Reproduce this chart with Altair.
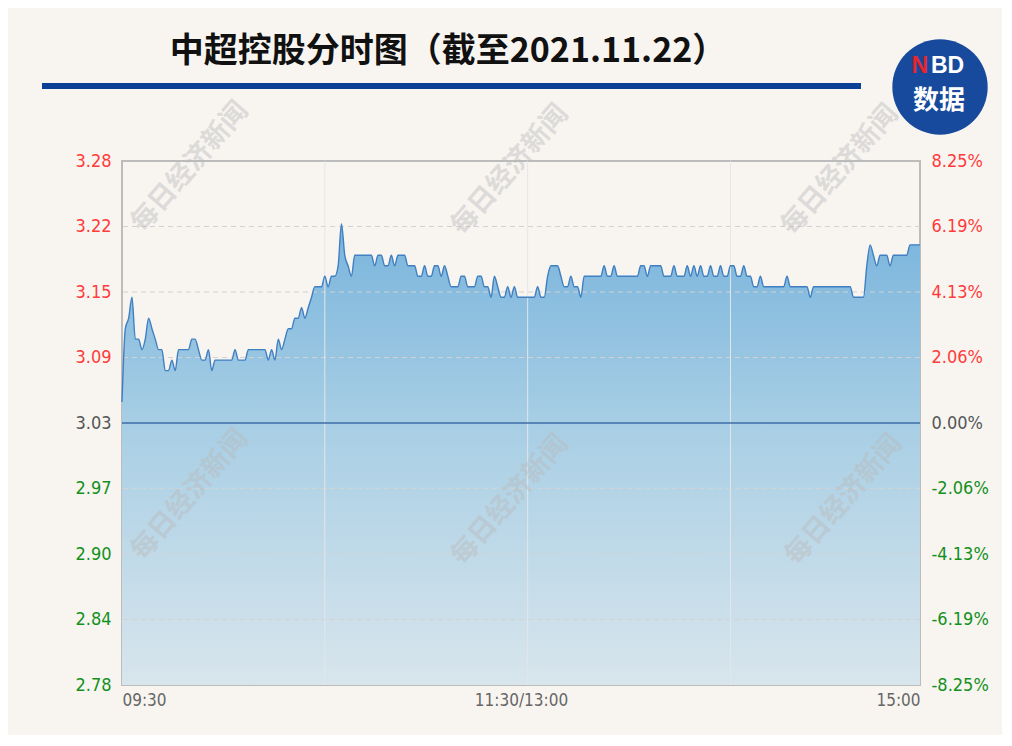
import json
import altair as alt
import pandas as pd

# ---------------- data ----------------
title_text = "中超控股分时图（截至2021.11.22）"
prev_close = 3.03

# one price per trading minute, 09:30 ... 11:30 / 13:00 ... 15:00 (241 points)
prices = [
    3.05, 3.12, 3.13, 3.15, 3.11, 3.11, 3.10, 3.11, 3.13, 3.12,
    3.11, 3.10, 3.10, 3.08, 3.08, 3.09, 3.08, 3.10, 3.10, 3.10,
    3.10, 3.11, 3.11, 3.10, 3.09, 3.09, 3.10, 3.08, 3.09, 3.09,
    3.09, 3.09, 3.09, 3.09, 3.10, 3.09, 3.09, 3.09, 3.10, 3.10,
    3.10, 3.10, 3.10, 3.10, 3.09, 3.10, 3.09, 3.11, 3.10, 3.11,
    3.12, 3.12, 3.13, 3.13, 3.14, 3.13, 3.14, 3.15, 3.16, 3.16,
    3.16, 3.17, 3.16, 3.17, 3.17, 3.18, 3.22, 3.19, 3.18, 3.17,
    3.19, 3.19, 3.19, 3.19, 3.19, 3.19, 3.18, 3.19, 3.19, 3.18,
    3.18, 3.19, 3.18, 3.19, 3.19, 3.19, 3.18, 3.18, 3.18, 3.17,
    3.17, 3.18, 3.17, 3.17, 3.18, 3.18, 3.17, 3.18, 3.17, 3.16,
    3.16, 3.16, 3.17, 3.17, 3.16, 3.16, 3.16, 3.17, 3.17, 3.16,
    3.16, 3.15, 3.17, 3.16, 3.15, 3.15, 3.16, 3.15, 3.16, 3.15,
    3.15, 3.15, 3.15, 3.15, 3.15, 3.16, 3.15, 3.15, 3.17, 3.18,
    3.18, 3.18, 3.17, 3.16, 3.16, 3.17, 3.16, 3.16, 3.15, 3.17,
    3.17, 3.17, 3.17, 3.17, 3.17, 3.18, 3.17, 3.17, 3.18, 3.17,
    3.17, 3.17, 3.17, 3.17, 3.17, 3.17, 3.18, 3.18, 3.17, 3.18,
    3.18, 3.18, 3.18, 3.17, 3.17, 3.17, 3.18, 3.17, 3.17, 3.17,
    3.18, 3.17, 3.18, 3.17, 3.18, 3.17, 3.17, 3.18, 3.17, 3.17,
    3.18, 3.17, 3.17, 3.18, 3.18, 3.17, 3.17, 3.18, 3.17, 3.17,
    3.16, 3.16, 3.17, 3.16, 3.16, 3.16, 3.16, 3.16, 3.16, 3.16,
    3.17, 3.16, 3.16, 3.16, 3.16, 3.16, 3.16, 3.15, 3.16, 3.16,
    3.16, 3.16, 3.16, 3.16, 3.16, 3.16, 3.16, 3.16, 3.16, 3.16,
    3.15, 3.15, 3.15, 3.15, 3.18, 3.20, 3.19, 3.18, 3.19, 3.19,
    3.19, 3.18, 3.19, 3.19, 3.19, 3.19, 3.19, 3.20, 3.20, 3.20,
    3.20,
]
minutes = list(range(len(prices)))

y_tick_values = [2.78, 2.8425, 2.905, 2.9675, 3.03, 3.0925, 3.155, 3.2175, 3.28]
y_tick_labels = ["2.78", "2.84", "2.90", "2.97", "3.03", "3.09", "3.15", "3.22", "3.28"]
pct_tick_labels = ["-8.25%", "-6.19%", "-4.13%", "-2.06%", "0.00%",
                   "2.06%", "4.13%", "6.19%", "8.25%"]
x_tick_values = [0, 120, 240]
x_tick_labels = ["09:30", "11:30/13:00", "15:00"]
v_grid_minutes = [61, 122, 183]
watermark = "每日经济新闻"

# ---------------- styling ----------------
BG = "#f8f5f1"
RED = "#ff3b3b"
GREEN = "#13901b"
GREY = "#555555"
LABEL_FONT = "Liberation Sans Narrow, DejaVu Sans Condensed, sans-serif"
CJK = "Noto Sans CJK SC"

df = pd.DataFrame({"t": minutes, "price": prices})
one = pd.DataFrame({"a": [0]})
h_grid = pd.DataFrame({"p": [v for v in y_tick_values[1:-1] if abs(v - prev_close) > 0.001]})

xs = alt.Scale(domain=[0, 240], nice=False, zero=False)
ys = alt.Scale(domain=[y_tick_values[0], y_tick_values[-1]], nice=False, zero=False)

label_color = {
    "condition": [
        {"test": f"datum.value > {prev_close + 0.001}", "value": RED},
        {"test": f"datum.value < {prev_close - 0.001}", "value": GREEN},
    ],
    "value": GREY,
}

x_axis = alt.Axis(
    values=x_tick_values,
    labelExpr=(f"datum.value == {x_tick_values[0]} ? '{x_tick_labels[0]}' : "
               f"datum.value == {x_tick_values[1]} ? '{x_tick_labels[1]}' : '{x_tick_labels[2]}'"),
    labelFlush=True, labelColor="#666666", labelFont=LABEL_FONT, labelFontSize=17,
    labelPadding=7, ticks=False, domain=False, grid=False, title=None,
)
left_axis = alt.Axis(
    values=y_tick_values,
    labelExpr=f"{json.dumps(y_tick_labels)}[round((datum.value - {y_tick_values[0]}) / 0.0625)]",
    labelColor=label_color, labelFont=LABEL_FONT, labelFontSize=18, labelPadding=11,
    ticks=False, domain=False, grid=False, title=None,
)
right_axis = alt.Axis(
    orient="right", values=y_tick_values,
    labelExpr=f"{json.dumps(pct_tick_labels)}[round((datum.value - {y_tick_values[0]}) / 0.0625)]",
    labelColor=label_color, labelFont=LABEL_FONT, labelFontSize=18, labelPadding=11,
    ticks=False, domain=False, grid=False, title=None,
)

area = alt.Chart(df).mark_area(
    interpolate="monotone",
    color=alt.Gradient(
        gradient="linear",
        stops=[alt.GradientStop(color="#79b4dc", offset=0),
               alt.GradientStop(color="#a9cfe5", offset=0.45),
               alt.GradientStop(color="#d8e5ec", offset=1)],
        x1=0, x2=0, y1=0, y2=1,
    ),
).encode(
    x=alt.X("t:Q", scale=xs, axis=x_axis),
    y=alt.Y("price:Q", scale=ys, axis=left_axis),
    y2=alt.Y2Datum(y_tick_values[0]),
)

hgrid = alt.Chart(h_grid).mark_rule(
    color="#d2d2d2", strokeWidth=1.2, strokeDash=[5, 4]
).encode(y=alt.Y("p:Q", scale=ys, axis=None))

vgrid = alt.Chart(pd.DataFrame({"g": v_grid_minutes})).mark_rule(
    color="#e4e6e8", strokeWidth=1
).encode(x=alt.X("g:Q", scale=xs, axis=x_axis))

zero_line = alt.Chart(pd.DataFrame({"p": [prev_close]})).mark_rule(
    color="#3c6ea6", strokeWidth=1.5
).encode(y=alt.Y("p:Q", scale=ys, axis=None))

line = alt.Chart(df).mark_line(
    interpolate="monotone", color="#3f7fc2", strokeWidth=1.4
).encode(
    x=alt.X("t:Q", scale=xs, axis=x_axis),
    y=alt.Y("price:Q", scale=ys, axis=None),
)

right = alt.Chart(df).mark_line(opacity=0).encode(
    x=alt.X("t:Q", scale=xs, axis=x_axis),
    y=alt.Y("price:Q", scale=ys, axis=right_axis),
)

# decorative watermarks (positions in px relative to plot origin)
wm_pos = [(68, 6), (388, 9), (718, 9), (68, 334), (388, 339), (722, 339)]
wms = [
    alt.Chart(one).mark_text(
        text=watermark, font=CJK, fontSize=27, fontWeight="bold",
        angle=311, color="#b9b9b9", opacity=0.42,
    ).encode(x=alt.value(px), y=alt.value(py))
    for px, py in wm_pos
]

title = alt.Chart(one).mark_text(
    text=title_text, font=CJK, fontSize=34, fontWeight="bold", color="#111111",
    align="center", baseline="middle",
).encode(x=alt.value(326), y=alt.value(-109))

bar = alt.Chart(one).mark_rule(color="#0a4196", strokeWidth=6).encode(
    x=alt.value(-80), x2=alt.value(739), y=alt.value(-75)
)

logo = alt.Chart(one).mark_point(
    shape="circle", filled=True, color="#174a9c", opacity=1, size=9100
).encode(x=alt.value(818), y=alt.value(-74))

logo_n = alt.Chart(one).mark_text(
    text="N", font="Liberation Sans", fontSize=23, fontWeight="bold",
    color="#e8242c", align="right", baseline="middle",
).encode(x=alt.value(806), y=alt.value(-95))
logo_bd = alt.Chart(one).mark_text(
    text="BD", font="Liberation Sans", fontSize=23, fontWeight="bold",
    color="#ffffff", align="left", baseline="middle",
).encode(x=alt.value(809), y=alt.value(-95))
logo_cn = alt.Chart(one).mark_text(
    text="数据", font=CJK, fontSize=26, fontWeight="bold",
    color="#ffffff", align="center", baseline="middle",
).encode(x=alt.value(817), y=alt.value(-60))

chart = alt.layer(
    area, hgrid, vgrid, zero_line, line, right, *wms, title, bar, logo, logo_n, logo_bd, logo_cn
).resolve_scale(y="independent").properties(
    width=798, height=524,
    autosize=alt.AutoSizeParams(type="none"),
    padding={"left": 114, "top": 153, "right": 82, "bottom": 50},
    background=BG,
).configure_view(stroke="#bcbcbc", strokeWidth=2)

chart.save("out.html", embed_options={"renderer": "svg", "actions": False})
